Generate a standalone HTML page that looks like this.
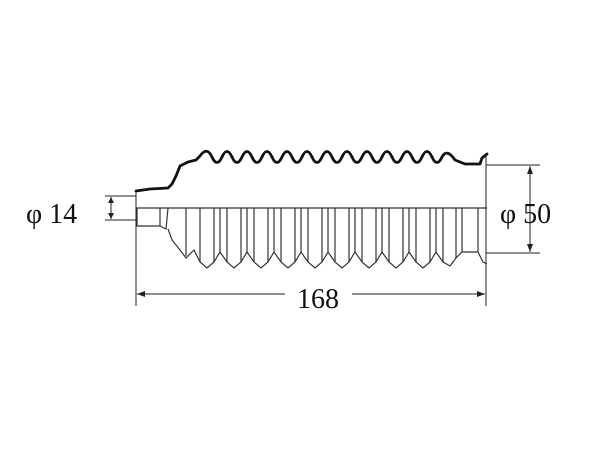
<!DOCTYPE html>
<html><head><style>body{margin:0;background:#fff}svg{display:block}</style></head><body>
<svg width="600" height="450" xmlns="http://www.w3.org/2000/svg" font-family="Liberation Serif, serif">
<rect width="600" height="450" fill="#fff"/>
<g fill="none" stroke="#111" stroke-width="2.8" stroke-linejoin="round" stroke-linecap="round">
<path d="M136 191 L150 189 L168 188 L172 184 L176 176 L180 166 L188 162 L196 160 L200 156 Q207 146 212 157 Q217 168 222 157 Q227 146 232 157 Q237 168 242 157 Q247 146 252 157 Q257 168 262 157 Q267 146 272 157 Q277 168 282 157 Q287 146 292 157 Q297 168 302 157 Q307 146 312 157 Q317 168 322 157 Q327 146 332 157 Q337 168 342 157 Q347 146 352 157 Q357 168 362 157 Q367 146 372 157 Q377 168 382 157 Q387 146 392 157 Q397 168 402 157 Q407 146 412 157 Q417 168 422 157 Q427 146 432 157 Q437 168 442 157 Q447 148 455 160 L465 164 L480 164 L482 158 L487 154"/>
</g>
<g fill="none" stroke="#333" stroke-width="1.2">
<path d="M136 208 L487 208"/>
<path d="M137 208 L137 226 L160 226 L160 208 M160 226 L166 229 L168 208 M168 229 L172 240 L180 250 L186 258 L194 250 L200 262 L207 268 L214 262 L220 252 L227 262 L234 268 L241 262 L247 252 L254 262 L261 268 L268 262 L274 252 L281 262 L288 268 L295 262 L301 252 L308 262 L315 268 L322 262 L328 252 L335 262 L342 268 L349 262 L355 252 L362 262 L369 268 L376 262 L382 252 L389 262 L396 268 L403 262 L409 252 L416 262 L423 268 L430 262 L436 252 L443 262 L450 266 L456 258 L462 252 L478 252 L483 262 L487 264"/>
<path d="M186 208 V256 M200 208 V262 M214 208 V262 M220 208 V252 M227 208 V262 M241 208 V262 M247 208 V252 M254 208 V262 M268 208 V262 M274 208 V252 M281 208 V262 M295 208 V262 M301 208 V252 M308 208 V262 M322 208 V262 M328 208 V252 M335 208 V262 M349 208 V262 M355 208 V252 M362 208 V262 M376 208 V262 M382 208 V252 M389 208 V262 M403 208 V262 M409 208 V252 M416 208 V262 M430 208 V262 M436 208 V252 M443 208 V262 M456 208 V258 M462 208 V252 M478 208 V252"/>
</g>
<g stroke="#222" stroke-width="1" fill="none">
<path d="M136 192 V306 M486 155 V306"/>
<path d="M105 196 H136 M105 220 H136 M486 165 H540 M486 253 H540"/>
<path d="M111 197 V219 M530 166 V252"/>
<path d="M137 294 H285 M352 294 H485"/>
</g>
<g fill="#222">
<path d="M108 203 L111 197 L114 203 Z M108 213 L111 219 L114 213 Z"/>
<path d="M527 174 L530 166 L533 174 Z M527 244 L530 252 L533 244 Z"/>
<path d="M145 291 L137 294 L145 297 Z M477 291 L485 294 L477 297 Z"/>
</g>
<g font-size="28" fill="#111">
<text x="26" y="223">φ 14</text>
<text x="500" y="223">φ 50</text>
<text x="318" y="308" text-anchor="middle">168</text>
</g>
</svg>
</body></html>
